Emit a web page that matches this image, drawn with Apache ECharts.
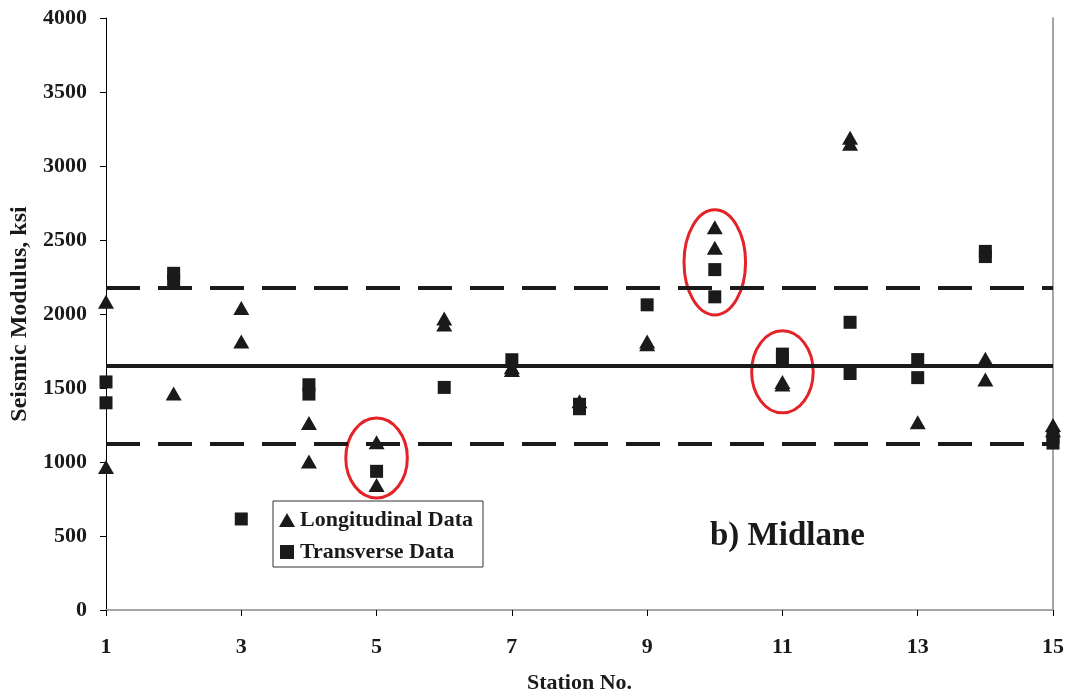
<!DOCTYPE html>
<html>
<head>
<meta charset="utf-8">
<title>Seismic Modulus – Midlane</title>
<script src="https://cdn.jsdelivr.net/npm/echarts@6/dist/echarts.min.js"></script>
<style>
  html, body { margin: 0; padding: 0; background: #ffffff; }
  #chart { width: 1068px; height: 698px; }
</style>
</head>
<body>
<div id="chart"></div>
<script>
// Station categories (x axis)
const stations = ['1','2','3','4','5','6','7','8','9','10','11','12','13','14','15'];

// Longitudinal seismic modulus readings, ksi
const longStation = [1, 1, 2, 3, 3, 4, 4, 5, 5, 6, 6, 7, 7, 8, 9, 9, 10, 10, 11, 11, 12, 12, 13, 14, 14, 15, 15];
const longValue   = [2082, 967, 1462, 2041, 1814, 1263, 1004, 1134, 845, 1969, 1929, 1640, 1622, 1410, 1815, 1795, 2586, 2448, 1541, 1523, 3191, 3150, 1268, 1697, 1557, 1250, 1215];

// Transverse seismic modulus readings, ksi
const transStation = [1, 1, 2, 2, 3, 4, 4, 5, 6, 7, 8, 8, 9, 10, 10, 11, 11, 12, 12, 13, 13, 14, 14, 15, 15];
const transValue   = [1541, 1400, 2275, 2227, 615, 1522, 1459, 937, 1504, 1691, 1390, 1360, 2062, 2300, 2116, 1729, 1700, 1944, 1598, 1692, 1570, 2423, 2388, 1165, 1128];

// Mean and limit lines, ksi
const meanValue  = 1648;
const upperLimit = 2175;
const lowerLimit = 1122;

// Circled stations: station, lower and upper extent of the ring (ksi)
const ringStation = [5, 10, 11];
const ringLow     = [757, 1994, 1332];
const ringHigh    = [1297, 2704, 1886];

// Y axis ticks
const yMin = 0, yMax = 4000, yStep = 500;

const FONT = "'Liberation Serif', 'Times New Roman', serif";
const INK = '#1a1a1a';

const toPairs = (xs, ys) => xs.map((s, i) => [s - 1, ys[i]]);
const rings = ringStation.map((s, i) => [s - 1, ringLow[i], ringHigh[i]]);

const chart = echarts.init(document.getElementById('chart'), null, { renderer: 'canvas' });

chart.setOption({
  animation: false,
  backgroundColor: '#ffffff',
  grid: { left: 106, right: 15, top: 18, bottom: 88, containLabel: false, outerBoundsMode: 'none' },
  xAxis: [{
    type: 'category',
    data: stations,
    boundaryGap: false,
    name: 'Station No.',
    nameLocation: 'middle',
    nameGap: 62,
    nameTextStyle: { fontFamily: FONT, fontWeight: 'bold', fontSize: 22, color: INK },
    axisLine: { lineStyle: { color: '#000000', width: 1 } },
    axisTick: { show: true, interval: 1, length: 6, inside: false, lineStyle: { color: '#000000' } },
    axisLabel: { interval: 1, margin: 26, fontFamily: FONT, fontWeight: 'bold', fontSize: 22, color: INK },
    splitLine: { show: false }
  }, {
    type: 'category',
    data: stations,
    boundaryGap: false,
    position: 'top',
    axisLine: { show: true, lineStyle: { color: '#a6a6a6', width: 2 } },
    axisTick: { show: false },
    axisLabel: { show: false },
    splitLine: { show: false }
  }],
  yAxis: [{
    type: 'value',
    min: yMin, max: yMax, interval: yStep,
    name: 'Seismic Modulus, ksi',
    nameLocation: 'middle',
    nameGap: 66,
    nameTextStyle: { fontFamily: FONT, fontWeight: 'bold', fontSize: 24, color: INK },
    axisLine: { show: true, lineStyle: { color: '#000000', width: 1 } },
    axisTick: { show: true, length: 6, inside: false, lineStyle: { color: '#000000' } },
    axisLabel: {
      margin: 19, fontFamily: FONT, fontWeight: 'bold', fontSize: 22, color: INK,
      formatter: v => String(v)
    },
    splitLine: { show: false }
  }, {
    type: 'value',
    min: yMin, max: yMax, interval: yStep,
    position: 'right',
    axisLine: { show: true, lineStyle: { color: '#a6a6a6', width: 2 } },
    axisTick: { show: false },
    axisLabel: { show: false },
    splitLine: { show: false }
  }],
  legend: {
    orient: 'vertical',
    left: 273,
    top: 501,
    padding: [8, 10, 4, 6],
    itemGap: 10,
    itemWidth: 16,
    itemHeight: 14,
    borderColor: '#333333',
    borderWidth: 1,
    backgroundColor: '#ffffff',
    selectedMode: false,
    textStyle: { fontFamily: FONT, fontWeight: 'bold', fontSize: 22, color: INK },
    data: [
      { name: 'Longitudinal Data', icon: 'triangle' },
      { name: 'Transverse Data', icon: 'path://M0,0H10V10H0Z' }
    ]
  },
  graphic: [{
    type: 'text',
    left: 710,
    top: 520,
    style: { text: 'b) Midlane', font: 'bold 33px ' + FONT, fill: INK }
  }],
  series: [
    {
      name: 'Limits',
      type: 'line',
      data: [],
      silent: true,
      z: 1,
      markLine: {
        silent: true,
        symbol: 'none',
        label: { show: false },
        data: [
          { yAxis: meanValue,  lineStyle: { type: 'solid', width: 4, color: INK } },
          { yAxis: upperLimit, lineStyle: { type: [34, 18], width: 4, color: INK } },
          { yAxis: lowerLimit, lineStyle: { type: [34, 18], width: 4, color: INK } }
        ]
      }
    },
    {
      name: 'Longitudinal Data',
      type: 'scatter',
      symbol: 'triangle',
      symbolSize: [16, 14],
      clip: false,
      z: 3,
      itemStyle: { color: INK, opacity: 1 },
      data: toPairs(longStation, longValue)
    },
    {
      name: 'Transverse Data',
      type: 'scatter',
      symbol: 'rect',
      symbolSize: [13, 13],
      clip: false,
      z: 3,
      itemStyle: { color: INK, opacity: 1 },
      data: toPairs(transStation, transValue)
    },
    {
      name: 'Rings',
      type: 'custom',
      silent: true,
      clip: false,
      z: 4,
      encode: { x: 0, y: [1, 2] },
      data: rings,
      renderItem: function (params, api) {
        const idx = api.value(0);
        const lo = api.value(1), hi = api.value(2);
        const mid = (lo + hi) / 2;
        const c = api.coord([idx, mid]);
        const top = api.coord([idx, hi]);
        const step = api.coord([idx + 1, mid])[0] - api.coord([idx, mid])[0];
        return {
          type: 'ellipse',
          shape: { cx: c[0], cy: c[1], rx: step * 0.455, ry: c[1] - top[1] },
          style: { fill: 'none', stroke: '#e42329', lineWidth: 3 }
        };
      }
    }
  ]
});
</script>
</body>
</html>
